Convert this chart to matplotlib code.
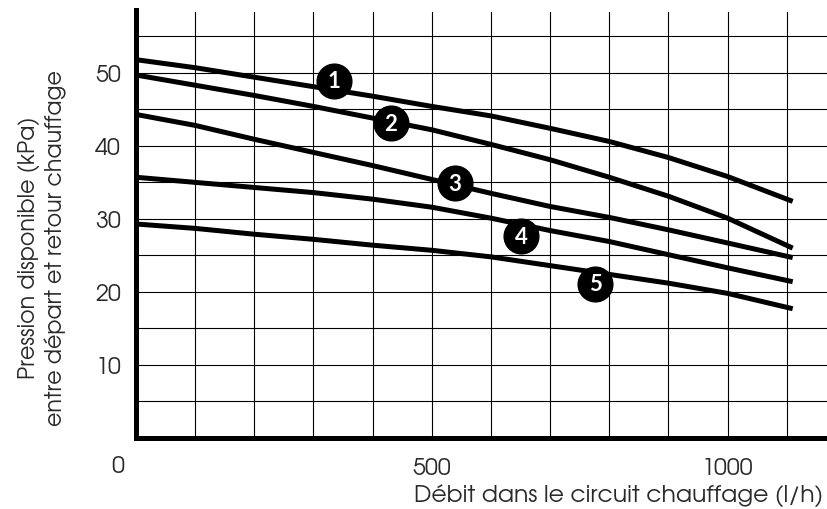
import matplotlib
matplotlib.use("Agg")
import matplotlib.pyplot as plt

# débit (l/h) and pression (kPa), one series per curve
flow = [0, 100, 200, 300, 400, 500, 600, 700, 800, 900, 1000, 1110]
curve_1 = [51.8, 50.7, 49.4, 48.1, 46.8, 45.4, 44.1, 42.4, 40.6, 38.4, 35.8, 32.4]
curve_2 = [49.7, 48.3, 46.9, 45.4, 43.8, 42.2, 40.2, 38.1, 35.7, 33.1, 30.1, 26.0]
curve_3 = [44.3, 42.8, 40.9, 39.1, 37.3, 35.4, 33.5, 31.7, 30.2, 28.5, 26.7, 24.7]
curve_4 = [35.7, 35.0, 34.3, 33.6, 32.7, 31.6, 30.1, 28.4, 26.9, 25.1, 23.3, 21.4]
curve_5 = [29.3, 28.7, 27.9, 27.2, 26.4, 25.7, 24.8, 23.6, 22.4, 21.2, 19.8, 17.7]
curves = [curve_1, curve_2, curve_3, curve_4, curve_5]

labels = ["1", "2", "3", "4", "5"]
label_x = [334, 431, 539, 651, 776]
label_y = [48.9, 43.1, 34.9, 27.6, 21.1]

x_ticks = [500, 1000]
y_ticks = [10, 20, 30, 40, 50]

FONT = ["TeX Gyre Adventor", "URW Gothic", "Didact Gothic", "Lato", "DejaVu Sans"]
TXT = "#2a2a2a"
plt.rcParams["font.family"] = FONT


def fit_width(text, target_px, renderer, horizontal=True):
    # scale the font so the drawn text spans target_px
    bb = text.get_window_extent(renderer)
    span = bb.width if horizontal else bb.height
    text.set_fontsize(text.get_fontsize() * target_px / span)


fig = plt.figure(figsize=(8.27, 5.10), dpi=100)
ax = fig.add_axes([136 / 827, 1 - 439 / 510, 1 - 136 / 827, (439 - 11) / 510])

ax.set_xlim(0, 1168)
ax.set_ylim(0, 58.6)

for x in range(100, 1200, 100):
    ax.axvline(x, ymax=0.995, color="black", lw=0.8, zorder=1)
for y in range(5, 60, 5):
    ax.axhline(y, color="black", lw=0.8, zorder=1)

for ys in curves:
    ax.plot(flow, ys, color="black", lw=3.6, solid_capstyle="butt",
            solid_joinstyle="round", zorder=3)

for lab, lx, ly in zip(labels, label_x, label_y):
    ax.plot(lx, ly, "o", ms=25, color="black", zorder=4)
    ax.text(lx, ly, lab, color="white", fontsize=16, fontweight="bold",
            family=["Lato", "DejaVu Sans"], ha="center", va="center", zorder=5)

for side in ["top", "right"]:
    ax.spines[side].set_visible(False)
for side in ["left", "bottom"]:
    ax.spines[side].set_linewidth(3.6)
    ax.spines[side].set_color("black")

ax.set_xticks(x_ticks)
ax.set_yticks(y_ticks)
ax.tick_params(length=0, colors=TXT)

fig.canvas.draw()
renderer = fig.canvas.get_renderer()

# tick label size from the width of "1000" (about 52 px in the reference)
probe = fig.text(0, 0, "1000", fontsize=14)
fit_width(probe, 52, renderer)
tick_size = probe.get_fontsize()
probe.remove()
ax.tick_params(labelsize=tick_size)
ax.tick_params(axis="x", pad=14)
ax.tick_params(axis="y", pad=tick_size * 0.65)

fig.text(118 / 827, 1 - 467 / 510, "0", ha="center", va="center",
         fontsize=tick_size, color=TXT)

ylab = fig.text(42 / 827, 1 - 248 / 510,
                "Pression disponible (kPa)\nentre départ et retour chauffage",
                rotation=90, ha="center", va="center", fontsize=15, color=TXT,
                linespacing=1.25)
fit_width(ylab, 358, renderer, horizontal=False)

xlab = fig.text(823 / 827, 1 - 496 / 510, "Débit dans le circuit chauffage (l/h)",
                ha="right", va="center", fontsize=15, color=TXT)
fit_width(xlab, 410, renderer)

fig.savefig("out.png", dpi=100)
